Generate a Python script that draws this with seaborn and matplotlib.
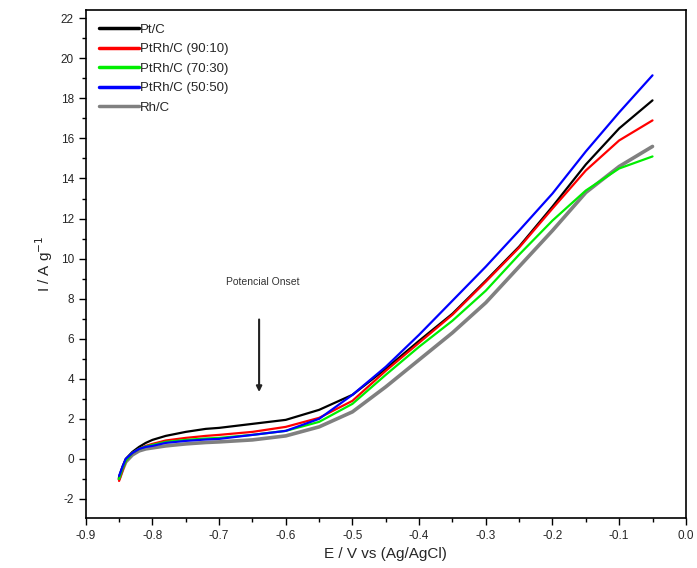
import numpy as np
import pandas as pd
import matplotlib
matplotlib.use("Agg")
import matplotlib.pyplot as plt
import seaborn as sns
from matplotlib.ticker import MultipleLocator

# Potential (V vs Ag/AgCl)
potential = [-0.85, -0.845, -0.84, -0.83, -0.82, -0.81, -0.80, -0.78, -0.75, -0.72, -0.70,
             -0.65, -0.60, -0.55, -0.50, -0.45, -0.40, -0.35, -0.30, -0.25, -0.20,
             -0.15, -0.10, -0.05]

pt_c =      [-0.9, -0.4, 0.0, 0.35, 0.6, 0.8, 0.95, 1.15, 1.35, 1.5, 1.55,
             1.75, 1.95, 2.45, 3.2, 4.5, 5.9, 7.25, 8.9, 10.6, 12.6,
             14.7, 16.5, 17.9]
ptrh_9010 = [-1.1, -0.6, -0.1, 0.3, 0.5, 0.65, 0.75, 0.92, 1.05, 1.15, 1.2,
             1.35, 1.6, 2.05, 2.9, 4.4, 5.8, 7.2, 8.85, 10.55, 12.5,
             14.4, 15.9, 16.9]
ptrh_7030 = [-1.0, -0.5, -0.1, 0.3, 0.5, 0.62, 0.7, 0.85, 0.95, 1.02, 1.05,
             1.2, 1.4, 1.85, 2.75, 4.2, 5.6, 6.9, 8.4, 10.2, 11.9,
             13.4, 14.5, 15.1]
ptrh_5050 = [-0.85, -0.4, 0.0, 0.3, 0.5, 0.6, 0.65, 0.8, 0.9, 0.97, 1.0,
             1.2, 1.4, 2.0, 3.2, 4.6, 6.2, 7.9, 9.6, 11.4, 13.25,
             15.35, 17.3, 19.15]
rh_c =      [-1.0, -0.55, -0.15, 0.2, 0.4, 0.5, 0.55, 0.65, 0.75, 0.82, 0.85,
             0.95, 1.15, 1.6, 2.35, 3.6, 4.95, 6.3, 7.8, 9.6, 11.4,
             13.3, 14.6, 15.6]

labels = ["Pt/C", "PtRh/C (90:10)", "PtRh/C (70:30)", "PtRh/C (50:50)", "Rh/C"]
colors = ["#000000", "#ff0000", "#00ee00", "#0000ff", "#808080"]
xtick_vals = [-0.9, -0.8, -0.7, -0.6, -0.5, -0.4, -0.3, -0.2, -0.1, 0.0]
xtick_labels = ["-0.9", "-0.8", "-0.7", "-0.6", "-0.5", "-0.4", "-0.3", "-0.2", "-0.1", "0.0"]

series = [pt_c, ptrh_9010, ptrh_7030, ptrh_5050, rh_c]
df = pd.concat([pd.DataFrame({"E": potential, "I": s, "Catalyst": lab})
                for s, lab in zip(series, labels)], ignore_index=True)

sns.set_style("white")
plt.rcParams['font.family'] = ['Liberation Sans', 'DejaVu Sans']
plt.rcParams['axes.unicode_minus'] = False

fig = plt.figure(figsize=(6.97, 5.68), dpi=100)
ax = fig.add_axes([0.123, 0.088, 0.861, 0.894])

sns.lineplot(data=df, x="E", y="I", hue="Catalyst", hue_order=labels,
             palette=dict(zip(labels, colors)), linewidth=1.6, ax=ax,
             estimator=None, sort=True)
for line, lab in zip(ax.get_lines(), labels):
    if lab == "Rh/C":
        line.set_linewidth(2.6)
        line.set_zorder(1.5)
    else:
        line.set_zorder(2)

ax.set_xlim(-0.9, 0.0)
ax.set_ylim(-2.95, 22.4)
ax.set_xticks(xtick_vals)
ax.set_xticklabels(xtick_labels)
ax.xaxis.set_minor_locator(MultipleLocator(0.05))
ax.yaxis.set_major_locator(MultipleLocator(2))
ax.yaxis.set_minor_locator(MultipleLocator(1))
ax.tick_params(which="major", direction="out", length=5, width=1, labelsize=8.5,
               bottom=True, left=True, top=False, right=False, color="black")
ax.tick_params(which="minor", direction="out", length=3, width=1,
               bottom=True, left=True, top=False, right=False, color="black")
for sp in ax.spines.values():
    sp.set_color("black")
    sp.set_linewidth(1.2)

ax.set_xlabel("E / V vs (Ag/AgCl)", fontsize=11)
ax.set_ylabel("I / A g$^{-1}$", fontsize=11)

ax.annotate("", xy=(-0.64, 3.2), xytext=(-0.64, 7.1),
            arrowprops=dict(arrowstyle="-|>", color="#222222", lw=1.5, mutation_scale=8))
ax.text(-0.635, 8.85, "Potencial Onset", fontsize=7.5, ha="center", va="center", color="#333333")

leg = ax.legend(loc="upper left", frameon=False, fontsize=9.5, handlelength=3.0,
                handletextpad=0.1, labelspacing=0.55, borderaxespad=0.6)
for h in leg.get_lines():
    h.set_linewidth(2.5)

fig.savefig("out.png", dpi=100)
